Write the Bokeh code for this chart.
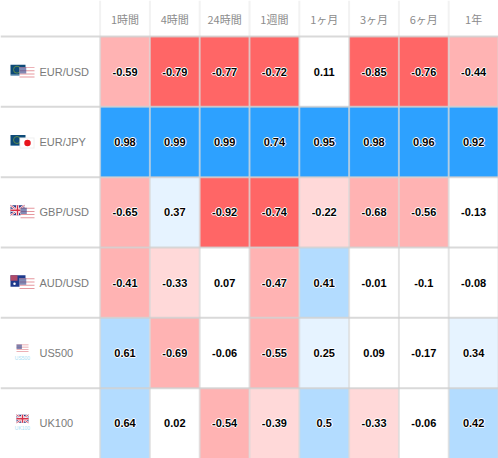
from bokeh.plotting import figure
from bokeh.models import Range1d, ColumnDataSource
from bokeh.core.properties import value
from bokeh.embed import file_html
from bokeh.resources import INLINE

periods = ["1時間", "4時間", "24時間", "1週間", "1ヶ月", "3ヶ月", "6ヶ月", "1年"]
instruments = ["EUR/USD", "EUR/JPY", "GBP/USD", "AUD/USD", "US500", "UK100"]
eur_usd = [-0.59, -0.79, -0.77, -0.72, 0.11, -0.85, -0.76, -0.44]
eur_jpy = [0.98, 0.99, 0.99, 0.74, 0.95, 0.98, 0.96, 0.92]
gbp_usd = [-0.65, 0.37, -0.92, -0.74, -0.22, -0.68, -0.56, -0.13]
aud_usd = [-0.41, -0.33, 0.07, -0.47, 0.41, -0.01, -0.1, -0.08]
us500 = [0.61, -0.69, -0.06, -0.55, 0.25, 0.09, -0.17, 0.34]
uk100 = [0.64, 0.02, -0.54, -0.39, 0.5, -0.33, -0.06, 0.42]
rows = [eur_usd, eur_jpy, gbp_usd, aud_usd, us500, uk100]


def shade(v):
    a = abs(v)
    if a < 0.2:
        return "#ffffff"
    if v < 0:
        return "#ffd9d9" if a < 0.4 else "#ffb3b3" if a < 0.7 else "#ff6666"
    return "#e6f3ff" if a < 0.4 else "#b3dcff" if a < 0.7 else "#2da1ff"


PXX, PXY = 49.8, 70.33
W, H = 498, 458
head = 36 / PXY
p = figure(width=W, height=H, x_range=Range1d(-2, 8), y_range=Range1d(6, -head),
           output_backend="svg", toolbar_location=None, min_border=0,
           x_axis_location=None, y_axis_location=None, outline_line_color=None,
           background_fill_color="white", border_fill_color="white")
p.grid.visible = False

xs, ys, cs, labels = [], [], [], []
for r, row in enumerate(rows):
    for c, v in enumerate(row):
        xs.append(c + 0.5)
        ys.append(r + 0.5)
        cs.append(shade(v))
        labels.append(str(v))
src = ColumnDataSource(dict(x=xs, y=ys, color=cs, label=labels))
p.rect("x", "y", 1, 1, source=src, fill_color="color", line_color=None)

# borders
p.segment(x0=list(range(9)), x1=list(range(9)), y0=[0] * 9, y1=[6] * 9,
          line_color="#d8d8d8", line_alpha=0.7, line_width=2)
p.segment(x0=list(range(8)), x1=list(range(8)), y0=[-head] * 8, y1=[0] * 8,
          line_color="#f2f2f2", line_width=2)
p.segment(x0=[-2] * 6, x1=[8] * 6, y0=list(range(6)), y1=list(range(6)),
          line_color="#d0d0d0", line_alpha=0.8, line_width=2)


def px(x):
    return -2 + x / PXX


def py(r, dy):
    return r + 0.5 + dy / PXY


def box(r, x0, x1, y0, y1, color, alpha=1.0):
    p.quad(left=px(x0), right=px(x1), top=py(r, y0), bottom=py(r, y1),
           fill_color=color, fill_alpha=alpha, line_color=None)


def us_flag(r, x0, x1, y0, y1, alpha=0.65):
    box(r, x0, x1, y0, y1, "#ffffff")
    h = (y1 - y0) / 7
    for i in range(0, 7, 2):
        box(r, x0, x1, y0 + i * h, y0 + (i + 0.6) * h, "#d8606a", alpha)
    box(r, x0, x0 + (x1 - x0) * 0.45, y0, y0 + 4 * h, "#3f4a8c", alpha)


def eu_flag(r):
    box(r, 10, 25, -7, 3, "#0d4a78")
    box(r, 10, 25, 3, 4, "#5d8eb5")
    p.scatter(px(16.5), py(r, -2), size=7, marker="circle", fill_color=None,
              line_color="#5f8a4c", line_width=1)


def uk_flag(r, x0, x1, y0, y1):
    box(r, x0, x1, y0, y1, "#2b3a82")
    xa, xb, ya, yb = px(x0), px(x1), py(r, y0), py(r, y1)
    p.segment([xa, xa], [ya, yb], [xb, xb], [yb, ya], line_color="#ffffff", line_width=2)
    p.segment([xa, xa], [ya, yb], [xb, xb], [yb, ya], line_color="#d8324a", line_width=0.8)
    xm, ym = (xa + xb) / 2, (ya + yb) / 2
    p.segment([xm, xa], [ya, ym], [xm, xb], [yb, ym], line_color="#ffffff", line_width=3)
    p.segment([xm, xa], [ya, ym], [xm, xb], [yb, ym], line_color="#d8324a", line_width=1.5)


eu_flag(0)
us_flag(0, 19, 34, -4.5, 6.5)
eu_flag(1)
box(1, 19, 34, -4.5, 6.5, "#f0f0f0")
box(1, 20, 33, -3.5, 5.5, "#ffffff")
p.scatter(px(27), py(1, 1), size=6.5, marker="circle", fill_color="#e8141c", line_color=None)
uk_flag(2, 10, 24, -7, 3)
us_flag(2, 20, 34, -4.5, 6.5)
box(3, 10, 25, -7.5, 4, "#1f3a8c")
box(3, 10, 17, -7.5, -2, "#b04a68")
p.scatter([px(14), px(21)], [py(3, 1), py(3, -1)], size=2.5, marker="circle", fill_color="#ffffff", line_color=None)
us_flag(3, 19, 34, -4.5, 7)
us_flag(4, 16, 28, -8.5, -0.5)
uk_flag(5, 16, 28, -8.5, -0.5)

# tiny captions under the index flags
p.text([px(22), px(22)], [py(4, 4.5), py(5, 4.5)], text=["US500", "UK100"], text_align="center",
       text_baseline="middle", text_color="#a8e0f5", text_font=value("Liberation Sans"),
       text_font_size="5px")

p.text(x=[c + 0.5 for c in range(8)], y=[-head / 2] * 8, text=periods, text_align="center",
       text_baseline="middle", text_color="#8c8c8c",
       text_font=value("Noto Sans CJK JP"), text_font_size="11px")
p.text(x=[px(39)] * 6, y=[r + 0.5 for r in range(6)], text=instruments, text_align="left",
       text_baseline="middle", text_color="#7a7a7a",
       text_font=value("Liberation Sans"), text_font_size="11px")
# white halo beneath the black values
for dx, dy in [(-1, 0), (1, 0), (0, -1), (0, 1)]:
    p.text("x", "y", text="label", source=src, text_align="center", text_baseline="middle",
           text_color="#ffffff", text_font=value("Liberation Sans"), text_font_style="bold",
           text_font_size="11px", x_offset=dx, y_offset=dy)
p.text("x", "y", text="label", source=src, text_align="center", text_baseline="middle",
       text_color="#000000", text_font=value("Liberation Sans"), text_font_style="bold",
       text_font_size="11px")

html = file_html(p, INLINE).replace("<body>", '<body style="margin:0">')
open("out.html", "w").write(html)
